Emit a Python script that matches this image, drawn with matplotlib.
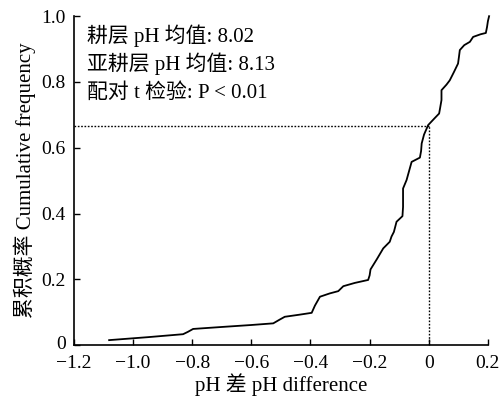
import matplotlib
matplotlib.use("Agg")
import matplotlib.pyplot as plt
import matplotlib.transforms as mtransforms

plt.rcParams['font.family'] = ['Liberation Serif', 'Noto Sans CJK SC']

# Cumulative frequency curve
ph_diff = [-1.081, -0.95, -0.831, -0.815, -0.797, -0.70, -0.60, -0.526, -0.505, -0.487,
           -0.44, -0.396, -0.385, -0.368, -0.335, -0.306, -0.289, -0.25, -0.205, -0.200,
           -0.197, -0.175, -0.154, -0.132, -0.126, -0.118, -0.109, -0.089, -0.087, -0.087,
           -0.075, -0.058, -0.030, -0.026, -0.024, -0.016, -0.002, 0.020, 0.035, 0.038,
           0.043, 0.043, 0.060, 0.071, 0.085, 0.099, 0.102, 0.105, 0.120, 0.139, 0.150,
           0.175, 0.193, 0.197, 0.200, 0.204]
cum_freq = [0.015, 0.024, 0.033, 0.040, 0.049, 0.055, 0.061, 0.066, 0.077, 0.086,
            0.092, 0.098, 0.120, 0.147, 0.157, 0.164, 0.179, 0.189, 0.198, 0.212,
            0.230, 0.262, 0.294, 0.314, 0.330, 0.344, 0.375, 0.392, 0.420, 0.476,
            0.502, 0.557, 0.570, 0.590, 0.613, 0.640, 0.669, 0.690, 0.704, 0.719,
            0.745, 0.775, 0.792, 0.805, 0.830, 0.856, 0.876, 0.897, 0.912, 0.922, 0.937,
            0.945, 0.949, 0.967, 0.985, 1.0]

ref_x = 0.0
ref_y = 0.667

xticks = [-1.2, -1.0, -0.8, -0.6, -0.4, -0.2, 0.0, 0.2]
xtick_labels = ['\u22121.2', '\u22121.0', '\u22120.8', '\u22120.6', '\u22120.4', '\u22120.2', '0', '0.2']
yticks = [0, 0.2, 0.4, 0.6, 0.8, 1.0]
ytick_labels = ['0', '0.2', '0.4', '0.6', '0.8', '1.0']

annot_lines = ['耕层 pH 均值: 8.02', '亚耕层 pH 均值: 8.13', '配对 t 检验: P < 0.01']

fig = plt.figure(figsize=(5.03, 4.05), dpi=100)
ax = fig.add_axes([0.147, 0.148, 0.823, 0.812])

ax.plot(ph_diff, cum_freq, color='black', lw=1.3, clip_on=False)
ax.plot([-1.2, ref_x], [ref_y, ref_y], color='black', lw=1.0, ls=(0, (1.2, 1.2)))
ax.plot([ref_x, ref_x], [0, ref_y], color='black', lw=1.0, ls=(0, (1.2, 1.2)))

ax.set_xlim(-1.2, 0.2)
ax.set_ylim(0, 1.0)
ax.set_xticks(xticks)
ax.set_xticklabels(xtick_labels)
ax.set_yticks(yticks)
ax.set_yticklabels(ytick_labels)
ax.tick_params(direction='in', length=4, width=1, labelsize=14, colors='black')
ax.tick_params(axis='x', pad=7)
ax.tick_params(axis='y', pad=6)
for s in ['top', 'right']:
    ax.spines[s].set_visible(False)
for s in ['left', 'bottom']:
    ax.spines[s].set_linewidth(1.2)

# nudge the y "0" label up a little so it clears the "-1.2" label
zero_lab = ax.get_yticklabels()[0]
zero_lab.set_transform(zero_lab.get_transform() +
                       mtransforms.ScaledTranslation(0, 2 / 72, fig.dpi_scale_trans))

ax.set_xlabel('pH 差 pH difference', fontsize=15, labelpad=1)
ax.set_ylabel('累积概率 Cumulative frequency', fontsize=15, labelpad=4)

for i, t in enumerate(annot_lines):
    ax.text(-1.155, 0.942 - i * 0.088, t, fontsize=15, va='center', ha='left')

fig.savefig('out.png', dpi=100)
